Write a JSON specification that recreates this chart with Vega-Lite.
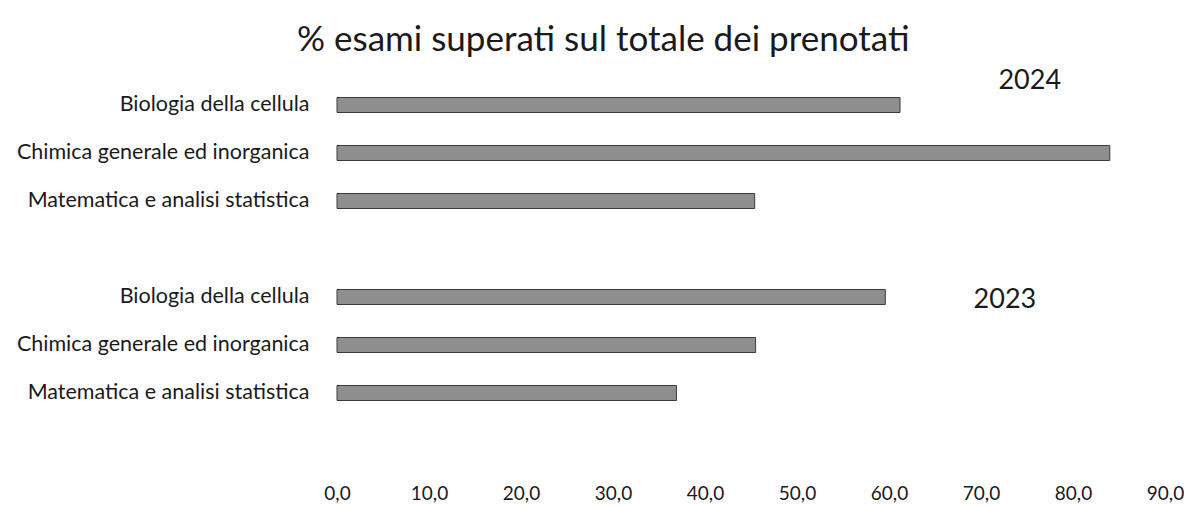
{
  "$schema": "https://vega.github.io/schema/vega-lite/v6.json",
  "autosize": {"type": "none"},
  "width": 828,
  "height": 384,
  "padding": {"left": 337, "top": 81, "right": 19, "bottom": 41},
  "background": "white",
  "title": {
    "text": "% esami superati sul totale dei prenotati",
    "anchor": "start",
    "frame": "group",
    "dx": -40,
    "offset": 9,
    "fontSize": 35,
    "font": "Lato",
    "fontWeight": "normal",
    "color": "#1a1a1a"
  },
  "data": {
    "values": [
      {"riga": "2024|Biologia della cellula", "anno": "2024", "valore": 61.2},
      {"riga": "2024|Chimica generale ed inorganica", "anno": "2024", "valore": 84.0},
      {"riga": "2024|Matematica e analisi statistica", "anno": "2024", "valore": 45.4},
      {"riga": "2023|Biologia della cellula", "anno": "2023", "valore": 59.6},
      {"riga": "2023|Chimica generale ed inorganica", "anno": "2023", "valore": 45.5},
      {"riga": "2023|Matematica e analisi statistica", "anno": "2023", "valore": 36.9}
    ]
  },
  "layer": [
    {
      "mark": {"type": "bar", "fill": "#8e8e8e", "stroke": "#3c3c3c", "strokeWidth": 1, "size": 15},
      "encoding": {
        "y": {
          "field": "riga",
          "type": "nominal",
          "scale": {
            "domain": [
              "2024|Biologia della cellula",
              "2024|Chimica generale ed inorganica",
              "2024|Matematica e analisi statistica",
              "gap1",
              "2023|Biologia della cellula",
              "2023|Chimica generale ed inorganica",
              "2023|Matematica e analisi statistica",
              "gap2"
            ],
            "paddingInner": 0,
            "paddingOuter": 0
          },
          "axis": {
            "title": null,
            "domain": false,
            "ticks": false,
            "labelPadding": 28,
            "labelFontSize": 21.5,
            "labelFont": "Lato",
            "labelLimit": 400,
            "labelColor": "#1a1a1a",
            "labelExpr": "indexof(datum.label, '|') > 0 ? split(datum.label, '|')[1] : ''"
          }
        },
        "x": {
          "field": "valore",
          "type": "quantitative",
          "scale": {"domain": [0, 90], "nice": false, "zero": true},
          "axis": {
            "title": null,
            "domain": false,
            "ticks": false,
            "grid": false,
            "values": [0, 10, 20, 30, 40, 50, 60, 70, 80, 90],
            "labelExpr": "replace(format(datum.value, '.1f'), '.', ',')",
            "labelFontSize": 19,
            "labelFont": "Lato",
            "labelColor": "#1a1a1a",
            "labelPadding": 19,
            "labelFlush": false,
            "labelOverlap": false
          }
        }
      }
    },
    {
      "data": {"values": [{"anno": "2024", "riga": "2024|Biologia della cellula"}]},
      "mark": {"type": "text", "fontSize": 27, "font": "Lato", "color": "#1a1a1a", "dy": -24, "align": "center"},
      "encoding": {
        "y": {"field": "riga", "type": "nominal"},
        "x": {"datum": 75.3},
        "text": {"field": "anno"}
      }
    },
    {
      "data": {"values": [{"anno": "2023", "riga": "2023|Biologia della cellula"}]},
      "mark": {"type": "text", "fontSize": 27, "font": "Lato", "color": "#1a1a1a", "dy": 3, "align": "center"},
      "encoding": {
        "y": {"field": "riga", "type": "nominal"},
        "x": {"datum": 72.6},
        "text": {"field": "anno"}
      }
    }
  ],
  "config": {"view": {"stroke": null}}
}
